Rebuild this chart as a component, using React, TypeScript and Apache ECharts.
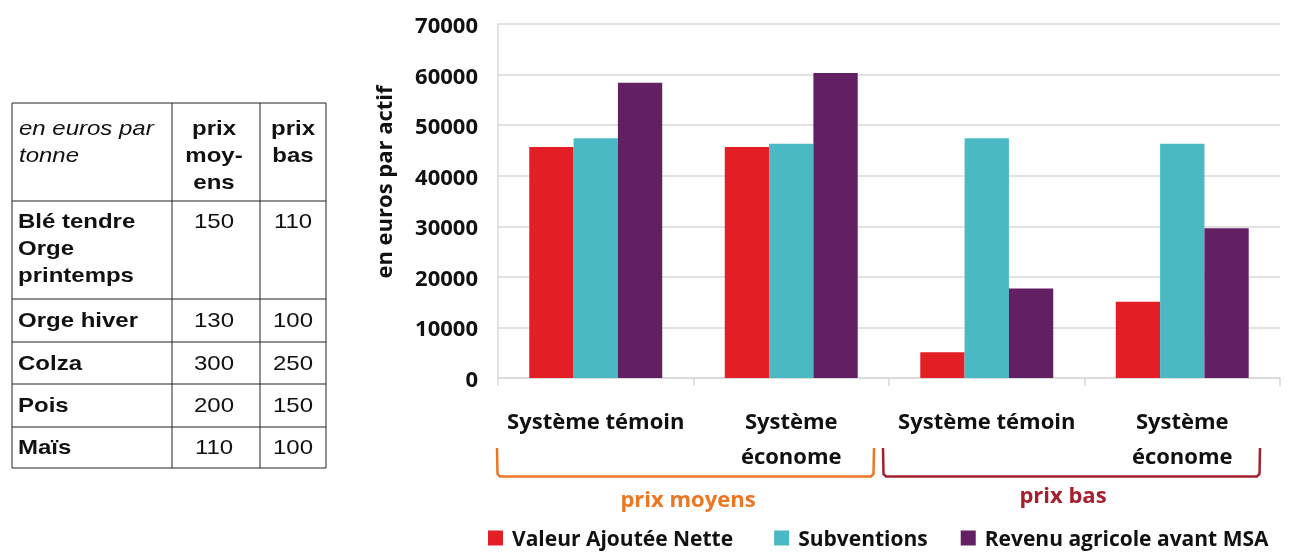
import React, { useEffect, useRef } from "react";
import * as echarts from "echarts";

const categories = ["Système témoin", "Système\néconome", "Système témoin", "Système\néconome"];
const seriesNames = ["Valeur Ajoutée Nette", "Subventions", "Revenu agricole avant MSA"];
const valeurAjoutee = [45700, 45700, 5100, 15100];
const subventions = [47400, 46300, 47400, 46300];
const revenuAgricole = [58400, 60300, 17700, 29600];
const colors = ["#E31E24", "#4BB9C3", "#621F61"];
const groupLabels = ["prix moyens", "prix bas"];

const tableHeader = ["en euros par\ntonne", "prix\nmoy-\nens", "prix\nbas"];
const tableCrops = ["Blé tendre\nOrge\nprintemps", "Orge hiver", "Colza", "Pois", "Maïs"];
const prixMoyens = [150, 130, 300, 200, 110];
const prixBas = [110, 100, 250, 150, 100];

const FONT = "Open Sans";
const TFONT = "Liberation Sans";

function tstyle(text: string, weight: string, italic: boolean, align: string) {
  return {
    text,
    fontFamily: TFONT,
    fontSize: 20,
    fontWeight: weight,
    fontStyle: italic ? "italic" : "normal",
    fill: "#111",
    lineHeight: 27,
    align,
    verticalAlign: "top",
  };
}

function buildTable(): any[] {
  const els: any[] = [];
  const colX = [12, 172, 260, 326];
  const rowY = [103, 201, 299, 342, 384, 427, 468];
  const stroke = { stroke: "#222", lineWidth: 1 };
  els.push({ type: "rect", shape: { x: colX[0], y: rowY[0], width: colX[3] - colX[0], height: rowY[6] - rowY[0] }, style: { fill: "none", ...stroke } });
  for (let i = 1; i < 3; i++) {
    els.push({ type: "line", shape: { x1: colX[i], y1: rowY[0], x2: colX[i], y2: rowY[6] }, style: stroke });
  }
  for (let j = 1; j < 6; j++) {
    els.push({ type: "line", shape: { x1: colX[0], y1: rowY[j], x2: colX[3], y2: rowY[j] }, style: stroke });
  }
  const sx = 1.2;
  const c2 = (colX[1] + colX[2]) / 2 - 2;
  const c3 = (colX[2] + colX[3]) / 2;
  els.push({ type: "text", x: 19, y: rowY[0] + 12, scaleX: sx, style: tstyle(tableHeader[0], "normal", true, "left") });
  els.push({ type: "text", x: c2, y: rowY[0] + 12, scaleX: sx, style: tstyle(tableHeader[1], "bold", false, "center") });
  els.push({ type: "text", x: c3, y: rowY[0] + 12, scaleX: sx, style: tstyle(tableHeader[2], "bold", false, "center") });
  for (let r = 0; r < tableCrops.length; r++) {
    const top = r === 0 ? rowY[1] + 7 : (rowY[r + 1] + rowY[r + 2]) / 2 - 13.5;
    els.push({ type: "text", x: 18, y: top, scaleX: sx, style: tstyle(tableCrops[r], "bold", false, "left") });
    els.push({ type: "text", x: c2, y: top, scaleX: sx, style: tstyle(String(prixMoyens[r]), "normal", false, "center") });
    els.push({ type: "text", x: c3, y: top, scaleX: sx, style: tstyle(String(prixBas[r]), "normal", false, "center") });
  }
  return els;
}

export default function App() {
  const ref = useRef<HTMLDivElement>(null);
  useEffect(() => {
    if (!ref.current) return;
    const chart = echarts.init(ref.current, undefined, { renderer: "svg" });
    const data = [valeurAjoutee, subventions, revenuAgricole];
    const orange = "#EE7623";
    const darkRed = "#A4202E";
    const legendRightPad = [16, 8, 0];
    chart.setOption({
      animation: false,
      grid: { left: 498, right: 12, top: 24, bottom: 174, containLabel: false },
      legend: {
        left: 488,
        top: 527,
        padding: 0,
        icon: "rect",
        itemWidth: 15,
        itemHeight: 15,
        itemGap: 25,
        textStyle: { fontFamily: FONT, fontSize: 21, fontWeight: "bold", color: "#111", lineHeight: 22, padding: [0, 0, 0, 4] },
        data: seriesNames.map((name, i) => ({
          name,
          textStyle: { padding: [0, legendRightPad[i], 0, 4] },
        })),
      },
      xAxis: {
        type: "category",
        data: categories,
        axisLine: { show: true, lineStyle: { color: "#d9d9d9", width: 1.5 } },
        axisTick: { show: true, length: 8, lineStyle: { color: "#d9d9d9", width: 1.5 } },
        axisLabel: { interval: 0, fontFamily: FONT, fontSize: 22, fontWeight: "bold", color: "#111", lineHeight: 35, margin: 24 },
      },
      yAxis: {
        type: "value",
        min: 0,
        max: 70000,
        interval: 10000,
        axisLine: { show: true, lineStyle: { color: "#d9d9d9", width: 1.5 } },
        axisTick: { show: false },
        splitLine: { lineStyle: { color: "#d9d9d9", width: 1.5 } },
        axisLabel: { fontFamily: FONT, fontSize: 22, fontWeight: "bold", color: "#111", margin: 20, formatter: (v: number) => String(v) },
      },
      series: seriesNames.map((name, i) => ({
        name,
        type: "bar",
        data: data[i],
        barGap: "0%",
        barCategoryGap: "32%",
        itemStyle: { color: colors[i] },
      })),
      graphic: [
        ...buildTable(),
        {
          type: "text",
          x: 383,
          y: 182,
          rotation: Math.PI / 2,
          style: { text: "en euros par actif", fontFamily: FONT, fontSize: 22, fontWeight: "bold", fill: "#111", align: "center", verticalAlign: "middle" },
        },
        {
          type: "polyline",
          shape: { points: [[497, 448], [497.5, 474], [500, 476.5], [871, 476.5], [873.5, 474], [874, 448]] },
          style: { stroke: orange, lineWidth: 2.5, fill: "none" },
        },
        {
          type: "polyline",
          shape: { points: [[883, 448], [883.5, 474], [886, 476.5], [1257, 476.5], [1259.5, 474], [1260, 448]] },
          style: { stroke: darkRed, lineWidth: 2.5, fill: "none" },
        },
        {
          type: "text",
          x: 688,
          y: 498,
          style: { text: groupLabels[0], fontFamily: FONT, fontSize: 22, fontWeight: "bold", fill: orange, align: "center", verticalAlign: "middle" },
        },
        {
          type: "text",
          x: 1063,
          y: 494,
          style: { text: groupLabels[1], fontFamily: FONT, fontSize: 22, fontWeight: "bold", fill: darkRed, align: "center", verticalAlign: "middle" },
        },
      ],
    });
    return () => chart.dispose();
  }, []);
  return <div ref={ref} style={{ position: "fixed", left: 0, top: 0, width: 1292, height: 552 }} />;
}
